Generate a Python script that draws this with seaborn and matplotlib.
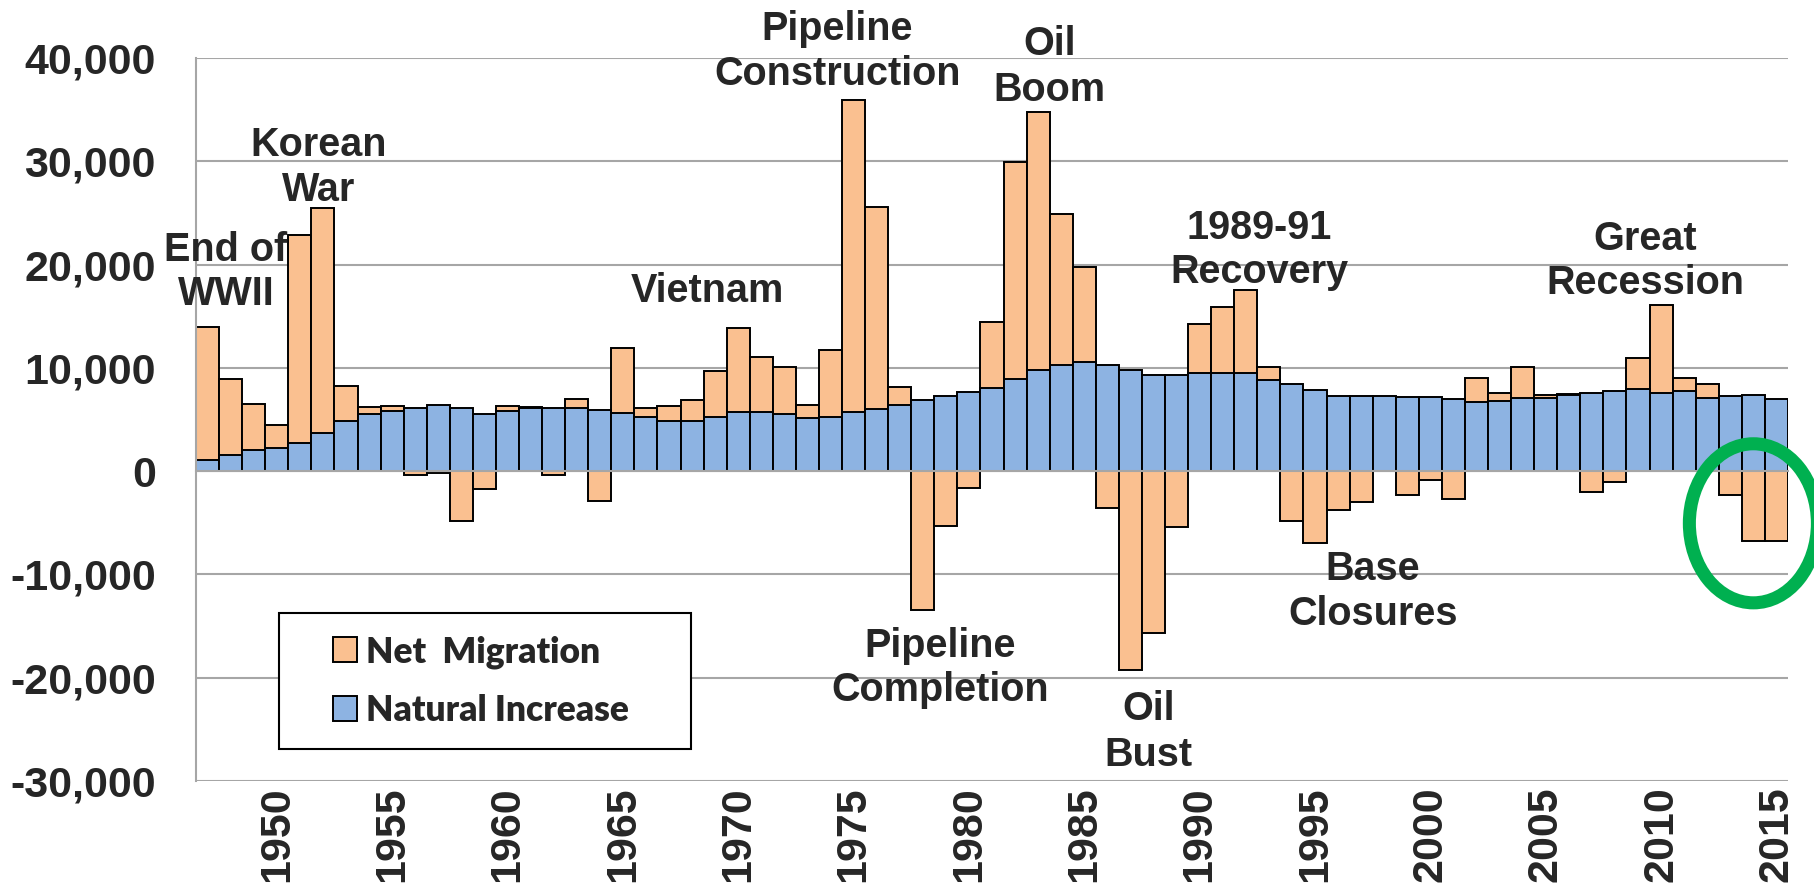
import numpy as np
import pandas as pd
import matplotlib
matplotlib.use("Agg")
import matplotlib.pyplot as plt
import seaborn as sns
from matplotlib.patches import Patch, Ellipse, Rectangle
from matplotlib.legend_handler import HandlerPatch
from matplotlib.ticker import FuncFormatter

# ---------------- data ----------------
years = list(range(1947, 2016))

natural_increase = [
    1100, 1550, 2000, 2250, 2700, 3700, 4850, 5550, 5800, 6150,      # 1947-1956
    6400, 6150, 5550, 5850, 6100, 6150, 6100, 5900, 5600, 5250,      # 1957-1966
    4900, 4900, 5200, 5700, 5750, 5550, 5150, 5250, 5700, 6000,      # 1967-1976
    6400, 6850, 7250, 7650, 8050, 8900, 9750, 10250, 10600, 10300,   # 1977-1986
    9800, 9350, 9350, 9500, 9500, 9500, 8800, 8450, 7850, 7250,      # 1987-1996
    7300, 7250, 7150, 7170, 6950, 6700, 6800, 7120, 7100, 7400,      # 1997-2006
    7550, 7720, 7950, 7580, 7720, 7120, 7250, 7400, 6980,            # 2007-2015
]

net_migration = [
    12850, 7400, 4500, 2170, 20140, 21750, 3350, 670, 500, -400,     # 1947-1956
    -150, -4800, -1750, 480, 150, -350, 850, -2850, 6350, 890,       # 1957-1966
    1370, 2030, 4450, 8140, 5310, 4580, 1300, 6460, 30270, 19610,    # 1967-1976
    1700, -13450, -5350, -1650, 6430, 21040, 25020, 14620, 9210, -3600,  # 1977-1986
    -19250, -15700, -5450, 4730, 6370, 8080, 1330, -4850, -7000, -3750,  # 1987-1996
    -3000, 0, -2350, -850, -2650, 2270, 800, 3010, 300, 50,          # 1997-2006
    -2000, -1050, 3050, 8520, 1340, 1300, -2300, -6750, -6750,       # 2007-2015
]

y_ticks = [-30000, -20000, -10000, 0, 10000, 20000, 30000, 40000]
label_years = [1950, 1955, 1960, 1965, 1970, 1975, 1980, 1985, 1990,
               1995, 2000, 2005, 2010, 2015]

series_labels = ["Net  Migration", "Natural Increase"]

annotations = [
    ("End of\nWWII", 1947.8, 19250, 1.2),
    ("Korean\nWar", 1951.8, 29400, 1.25),
    ("Vietnam", 1968.65, 17450, 1.2),
    ("Pipeline\nConstruction", 1974.3, 40650, 1.25),
    ("Oil\nBoom", 1983.5, 39140, 1.28),
    ("1989-91\nRecovery", 1992.6, 21430, 1.2),
    ("Great\nRecession", 2009.3, 20310, 1.2),
    ("Pipeline\nCompletion", 1978.75, -19040, 1.2),
    ("Oil\nBust", 1987.8, -25280, 1.25),
    ("Base\nClosures", 1997.5, -11640, 1.25),
]

# ---------------- styling constants ----------------
ORANGE = "#FAC090"
BLUE = "#8DB3E2"
GRID = "#A6A6A6"
GREEN = "#00B050"

sns.set_style("white")
plt.rcParams["font.family"] = ["Liberation Sans", "DejaVu Sans"]
plt.rcParams["font.weight"] = "bold"

df = pd.DataFrame({
    "year": years,
    "ni": natural_increase,
    "nm": net_migration,
})
df["label"] = df["year"].astype(str)
df["top"] = df["ni"] + df["nm"]
order = df["label"].tolist()

fig = plt.figure(figsize=(18.15, 8.92), dpi=100)
ax = fig.add_axes([196 / 1815, 1 - 781 / 892, 1592 / 1815, 723 / 892])

common = dict(x="label", order=order, width=1.0, saturation=1,
              edgecolor="black", linewidth=1.4, errorbar=None, ax=ax)

pos = df[df["nm"] > 0]
neg = df[df["nm"] < 0]
sns.barplot(data=pos, y="top", color=ORANGE, **common)
sns.barplot(data=df, y="ni", color=BLUE, **common)
sns.barplot(data=neg, y="nm", color=ORANGE, **common)

ax.set_xlim(-0.5, len(years) - 0.5)
ax.set_ylim(y_ticks[0], y_ticks[-1])
ax.set_yticks(y_ticks)
ax.yaxis.set_major_formatter(FuncFormatter(lambda v, p: f"{v:,.0f}"))
ax.set_xlabel("")
ax.set_ylabel("")

ax.yaxis.grid(True, color=GRID, linewidth=1.5)
ax.xaxis.grid(False)
ax.set_axisbelow(True)

for s in ["top", "right"]:
    ax.spines[s].set_visible(False)
ax.spines["left"].set_color(GRID)
ax.spines["left"].set_linewidth(1.5)
ax.spines["bottom"].set_position(("data", 0))
ax.spines["bottom"].set_color(GRID)
ax.spines["bottom"].set_linewidth(1.5)

ax.tick_params(axis="x", which="major", length=0, labelbottom=False)
ax.set_xticks(np.arange(0.5, len(years) - 0.5, 1.0), minor=True)
ax.tick_params(axis="x", which="minor", length=9, width=1.4, color=GRID,
               direction="out")
ax.tick_params(axis="y", length=7, width=1.4, color=GRID, pad=22,
               labelsize=31)

sec = ax.secondary_xaxis(0)
sec.set_xticks([years.index(y) for y in label_years],
               labels=[str(y) for y in label_years], rotation=90)
sec.tick_params(length=0, pad=4, labelsize=31)
sec.spines["bottom"].set_visible(False)

for text, yr, yv, ls in annotations:
    ax.text(years.index(int(yr)) + (yr - int(yr)), yv, text, ha="center",
            va="center", multialignment="center", fontsize=28.5,
            fontweight="bold", linespacing=ls, zorder=6)

# green highlight ellipse around the last years
ax.add_patch(Ellipse((years.index(2014), -5050), width=5.55, height=15400,
                     fill=False, edgecolor=GREEN, linewidth=9.4,
                     clip_on=False, zorder=7))


def square_handle(legend, orig_handle, xdescent, ydescent, width, height,
                  fontsize):
    s = height
    return Rectangle((-xdescent + width - s, -ydescent), s, s)


handles = [
    Patch(facecolor=ORANGE, edgecolor="black", linewidth=1.4,
          label=series_labels[0]),
    Patch(facecolor=BLUE, edgecolor="black", linewidth=1.4,
          label=series_labels[1]),
]
leg = ax.legend(handles=handles, loc="upper left",
                bbox_to_anchor=(0.052, 0.0553, 0.259, 0.177), mode="expand",
                borderaxespad=0, borderpad=0.62, labelspacing=0.72,
                handlelength=1.6, handleheight=0.68, handletextpad=0.24,
                fancybox=False, framealpha=1, edgecolor="black",
                prop={"family": ["Lato", "DejaVu Sans"], "weight": "heavy",
                      "size": 25.5},
                handler_map={Patch: HandlerPatch(patch_func=square_handle)})
leg.get_frame().set_linewidth(1.5)

fig.savefig("out.png", dpi=100)
